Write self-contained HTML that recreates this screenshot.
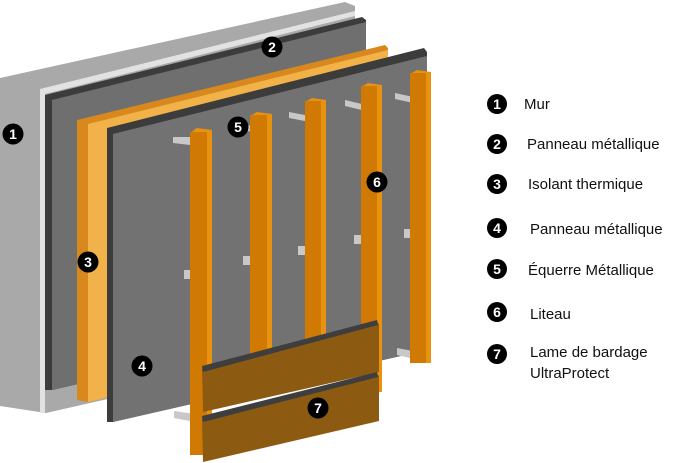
<!DOCTYPE html>
<html><head><meta charset="utf-8"><style>
body{margin:0;background:#fff;width:684px;height:463px;overflow:hidden}
svg{display:block}
text{font-family:"Liberation Sans",sans-serif}
</style></head><body>
<svg width="684" height="463" viewBox="0 0 684 463">
<!-- Wall 1 -->
<polygon points="0,78 345,2 355,6 355,343 46,413 0,406" fill="#a9a9a9"/>
<polygon points="40,89 355,11 355,16 45,94 45,413 40,413" fill="#e2e2e2"/>
<!-- Panel 2 -->
<polygon points="45,95 362,17 366,20 366,318 52,390 45,390" fill="#3c3c3c"/>
<polygon points="52,100 366,22 366,318 52,390" fill="#6f6f6f"/>
<!-- Insulation 3 -->
<polygon points="77,120 385,45 388,48 388,333 88,402 77,400" fill="#d8881c"/>
<polygon points="88,124 388,50 388,333 88,402" fill="#f1b24a"/>
<!-- Panel 4 -->
<polygon points="107,128 424,48 427,52 427,350 113,422 107,422" fill="#3c3c3c"/>
<polygon points="113,134 427,56 427,350 113,422" fill="#727272"/>
<!-- Brackets -->
<g fill="#c8c8c8">
<polygon points="173,137 190,137 190,145 173,143"/>
<polygon points="248,125 256,127 256,133 248,131"/>
<polygon points="289,112 310,116 310,122 289,118"/>
<polygon points="345,100 366,105 366,111 345,106"/>
<polygon points="395,93 418,98 418,104 395,99"/>
<rect x="184" y="270" width="8" height="9"/>
<rect x="243" y="256" width="7" height="9"/>
<rect x="298" y="246" width="7" height="9"/>
<rect x="354" y="235" width="7" height="9"/>
<rect x="404" y="229" width="7" height="9"/>
<polygon points="397,348 418,352 418,360 397,355"/>
<polygon points="174,411 195,414 195,422 174,418"/>
</g>
<!-- Battens -->
<g>
<polygon points="190,133 197,128 212,130 212,455 190,455" fill="#e8920f"/>
<rect x="190" y="132" width="17" height="323" fill="#d07a04"/>
<polygon points="250,116 257,112 272,114 272,395 250,395" fill="#e8920f"/>
<rect x="250" y="115" width="17" height="280" fill="#d07a04"/>
<polygon points="305,102 312,98 326,100 326,380 305,380" fill="#e8920f"/>
<rect x="305" y="101" width="16" height="279" fill="#d07a04"/>
<polygon points="361,87 368,83 382,85 382,392 361,392" fill="#e8920f"/>
<rect x="361" y="86" width="16" height="306" fill="#d07a04"/>
<polygon points="410,74 417,70 431,72 431,363 410,363" fill="#e8920f"/>
<rect x="410" y="73" width="16" height="290" fill="#d07a04"/>
</g>
<!-- Boards 7 -->
<polygon points="202,368 377,322 379,324 379,372 203,412" fill="#8d5a12"/>
<polygon points="202,366 377,320 378,325 203,372" fill="#3e3e3e"/>
<polygon points="202,418 377,374 379,376 379,421 203,462" fill="#8d5a12"/>
<polygon points="202,416 377,372 378,377 203,422" fill="#3e3e3e"/>
<!-- Number markers -->
<g fill="#000">
<circle cx="13" cy="134" r="10.5"/>
<circle cx="272" cy="47" r="10.5"/>
<circle cx="88" cy="262" r="10.5"/>
<circle cx="142" cy="366" r="10.5"/>
<circle cx="238" cy="127" r="10.5"/>
<circle cx="377" cy="182" r="10.5"/>
<circle cx="318" cy="408" r="10.5"/>
</g>
<g fill="#fff" font-size="14" font-weight="bold" text-anchor="middle">
<text x="13" y="139">1</text>
<text x="272" y="52">2</text>
<text x="88" y="267">3</text>
<text x="142" y="371">4</text>
<text x="238" y="132">5</text>
<text x="377" y="187">6</text>
<text x="318" y="413">7</text>
</g>
<!-- Legend -->
<g fill="#000">
<circle cx="497" cy="104" r="10"/><circle cx="497" cy="144" r="10"/>
<circle cx="497" cy="184" r="10"/><circle cx="497" cy="228" r="10"/>
<circle cx="497" cy="269" r="10"/><circle cx="497" cy="312" r="10"/>
<circle cx="497" cy="354" r="10"/>
</g>
<g fill="#fff" font-size="14" font-weight="bold" text-anchor="middle">
<text x="497" y="109">1</text><text x="497" y="149">2</text>
<text x="497" y="189">3</text><text x="497" y="233">4</text>
<text x="497" y="274">5</text><text x="497" y="317">6</text>
<text x="497" y="359">7</text>
</g>
<g fill="#111" font-size="15">
<text x="524" y="109">Mur</text>
<text x="527" y="149">Panneau métallique</text>
<text x="528" y="189">Isolant thermique</text>
<text x="530" y="234">Panneau métallique</text>
<text x="528" y="275">Équerre Métallique</text>
<text x="530" y="319">Liteau</text>
<text x="530" y="357">Lame de bardage</text>
<text x="530" y="378">UltraProtect</text>
</g>
</svg>
</body></html>
